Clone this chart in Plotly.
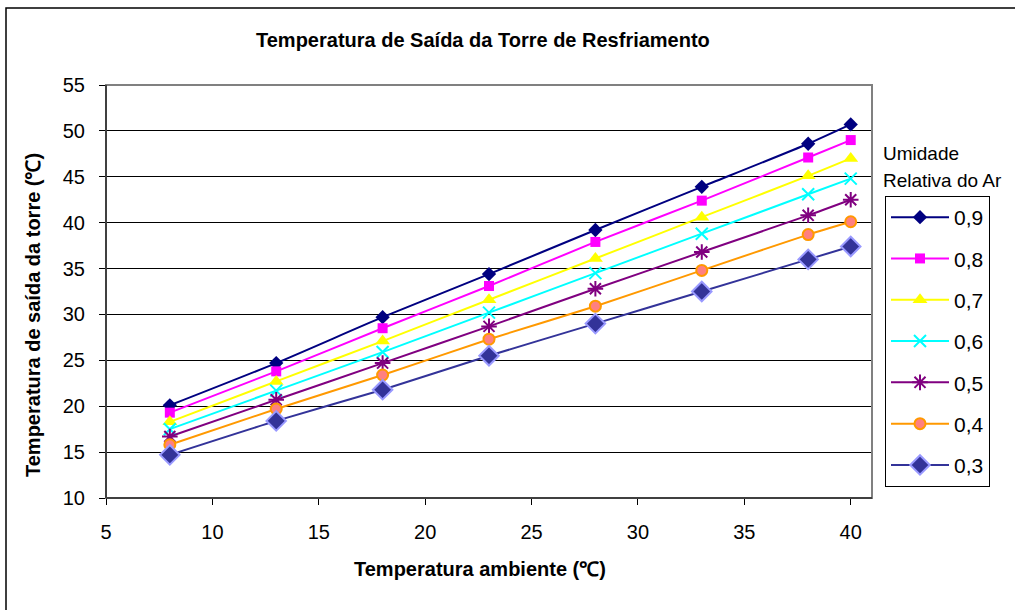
import plotly.graph_objects as go

# Ambient temperature (°C)
temp_ambiente = [8, 13, 18, 23, 28, 33, 38, 40]

# Tower outlet temperature (°C) for each relative humidity
ur_09 = [20.1, 24.7, 29.7, 34.4, 39.2, 43.9, 48.6, 50.7]
ur_08 = [19.3, 23.8, 28.5, 33.1, 37.9, 42.4, 47.1, 49.0]
ur_07 = [18.3, 22.7, 27.1, 31.6, 36.1, 40.6, 45.1, 47.0]
ur_06 = [17.5, 21.7, 25.9, 30.2, 34.5, 38.8, 43.1, 44.8]
ur_05 = [16.7, 20.7, 24.7, 28.7, 32.8, 36.8, 40.8, 42.5]
ur_04 = [15.8, 19.7, 23.4, 27.3, 30.9, 34.8, 38.7, 40.1]
ur_03 = [14.7, 18.4, 21.8, 25.5, 29.0, 32.5, 36.0, 37.4]

rotulos = ["0,9", "0,8", "0,7", "0,6", "0,5", "0,4", "0,3"]
series = [ur_09, ur_08, ur_07, ur_06, ur_05, ur_04, ur_03]

estilos = [
    dict(line="#000080", symbol="diamond", fill="#000080", edge="#000080", size=11, ew=0),
    dict(line="#FF00FF", symbol="square", fill="#FF00FF", edge="#FF00FF", size=10, ew=0),
    dict(line="#FFFF00", symbol="triangle-up", fill="#FFFF00", edge="#FFFF00", size=13, ew=0),
    dict(line="#00FFFF", symbol="x-thin-open", fill="#00FFFF", edge="#00FFFF", size=12, ew=2),
    dict(line="#800080", symbol="asterisk-open", fill="#800080", edge="#800080", size=13, ew=2),
    dict(line="#FF9900", symbol="circle", fill="#FF8080", edge="#FF9900", size=11, ew=2),
    dict(line="#333399", symbol="diamond", fill="#333399", edge="#9999FF", size=15, ew=2),
]

FONT = "Arial, Liberation Sans, sans-serif"

# Plot area in pixels
W, H = 1015, 610
L, R, T, B = 106, 872, 85, 498


def px(x):
    return (x - L) / (R - L)


def py(y):
    return (B - y) / (B - T)


fig = go.Figure()
for nome, ys, st in zip(rotulos, series, estilos):
    fig.add_trace(go.Scatter(
        x=temp_ambiente, y=ys, name=nome, mode="lines+markers",
        legendgroup=nome,
        line=dict(color=st["line"], width=2, shape="spline", smoothing=0.6),
        marker=dict(symbol=st["symbol"], size=st["size"], color=st["fill"],
                    line=dict(color=st["edge"], width=st["ew"])),
    ))

fig.update_layout(
    width=W, height=H, autosize=False,
    margin=dict(l=L, r=W - R, t=T, b=H - B),
    paper_bgcolor="white", plot_bgcolor="white",
    font=dict(family=FONT, color="black"),
    showlegend=True,
    legend=dict(
        x=px(885), y=py(196), xanchor="left", yanchor="top",
        bordercolor="black", borderwidth=1, bgcolor="white",
        font=dict(size=21, family=FONT), traceorder="grouped",
        tracegroupgap=11, itemwidth=58,
    ),
    xaxis=dict(
        range=[5, 41], tickmode="linear", tick0=5, dtick=5,
        showgrid=False, zeroline=False,
        showline=True, linecolor="black", linewidth=1,
        ticks="outside", ticklen=6, tickcolor="black",
        ticklabelstandoff=10,
        tickfont=dict(size=20, family=FONT),
    ),
    yaxis=dict(
        range=[10, 55], tickmode="linear", tick0=10, dtick=5,
        showgrid=True, gridcolor="black", gridwidth=1, zeroline=False,
        showline=True, linecolor="black", linewidth=1,
        ticks="outside", ticklen=6, tickcolor="black",
        ticklabelstandoff=10,
        tickfont=dict(size=20, family=FONT),
    ),
    shapes=[
        # plot area border
        dict(type="rect", xref="paper", yref="paper", x0=0, x1=1, y0=0, y1=1,
             line=dict(color="#808080", width=2), layer="above"),
        dict(type="line", xref="paper", yref="paper", x0=0, x1=0, y0=0, y1=1,
             line=dict(color="black", width=1), layer="above"),
        dict(type="line", xref="paper", yref="paper", x0=0, x1=1, y0=0, y1=0,
             line=dict(color="#404040", width=2), layer="above"),
        # chart frame
        dict(type="rect", xref="paper", yref="paper",
             x0=px(6), x1=px(1030), y0=py(625), y1=py(8),
             line=dict(color="black", width=1.5), layer="below"),
    ],
    annotations=[
        dict(text="<b>Temperatura de Saída da Torre de Resfriamento</b>",
             xref="paper", yref="paper", x=px(483), y=py(40),
             xanchor="center", yanchor="middle", showarrow=False,
             font=dict(size=20, family=FONT)),
        dict(text="<b>Temperatura ambiente (℃)</b>",
             xref="paper", yref="paper", x=px(480), y=py(569),
             xanchor="center", yanchor="middle", showarrow=False,
             font=dict(size=20, family=FONT)),
        dict(text="<b>Temperatura de saída da torre (℃)</b>",
             xref="paper", yref="paper", x=px(33), y=py(315),
             xanchor="center", yanchor="middle", showarrow=False, textangle=-90,
             font=dict(size=20, family=FONT)),
        dict(text="Umidade", xref="paper", yref="paper", x=px(881), y=py(153),
             xanchor="left", yanchor="middle", showarrow=False,
             font=dict(size=19, family=FONT)),
        dict(text="Relativa do Ar", xref="paper", yref="paper", x=px(881), y=py(180),
             xanchor="left", yanchor="middle", showarrow=False,
             font=dict(size=19, family=FONT)),
    ],
)

fig.write_html("out.html")
